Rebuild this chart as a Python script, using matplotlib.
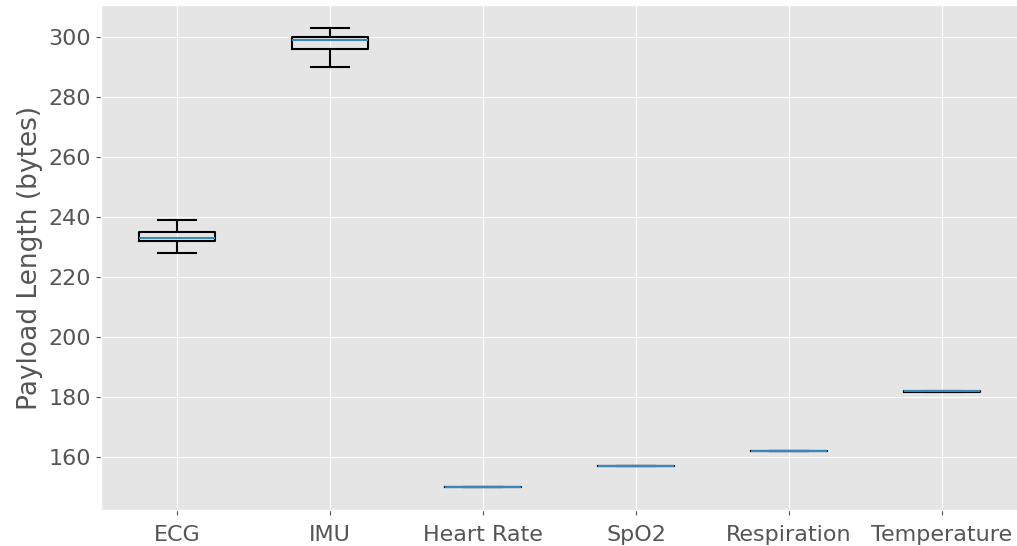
import matplotlib
matplotlib.use("Agg")
import matplotlib.pyplot as plt

plt.style.use("ggplot")

categories = ["ECG", "IMU", "Heart Rate", "SpO2", "Respiration", "Temperature"]
whisker_low = [228, 290, 150, 157, 162, 181.8]
q1 = [232, 296, 150, 157, 162, 181.8]
median = [233, 299, 150, 157, 162, 182]
q3 = [235, 300, 150, 157, 162, 182.1]
whisker_high = [239, 303, 150, 157, 162, 182.1]

stats = [
    dict(label=c, whislo=lo, q1=a, med=m, q3=b, whishi=hi, fliers=[])
    for c, lo, a, m, b, hi in zip(categories, whisker_low, q1, median, q3, whisker_high)
]

fig = plt.figure(figsize=(10.17, 5.46), dpi=100)
ax = fig.add_axes([100.5 / 1017, 36 / 546, 918 / 1017, 505 / 546])
lw = 1.5
ax.bxp(
    stats,
    showfliers=False,
    boxprops=dict(linewidth=lw, color="black"),
    whiskerprops=dict(linewidth=lw, color="black"),
    capprops=dict(linewidth=lw, color="black"),
    medianprops=dict(linewidth=lw, color="#348ABD"),
)
ax.set_ylabel("Payload Length (bytes)", fontsize=19)
ax.tick_params(axis="both", labelsize=16)
ax.tick_params(axis="x", pad=7)

fig.savefig("out.png", dpi=100)
